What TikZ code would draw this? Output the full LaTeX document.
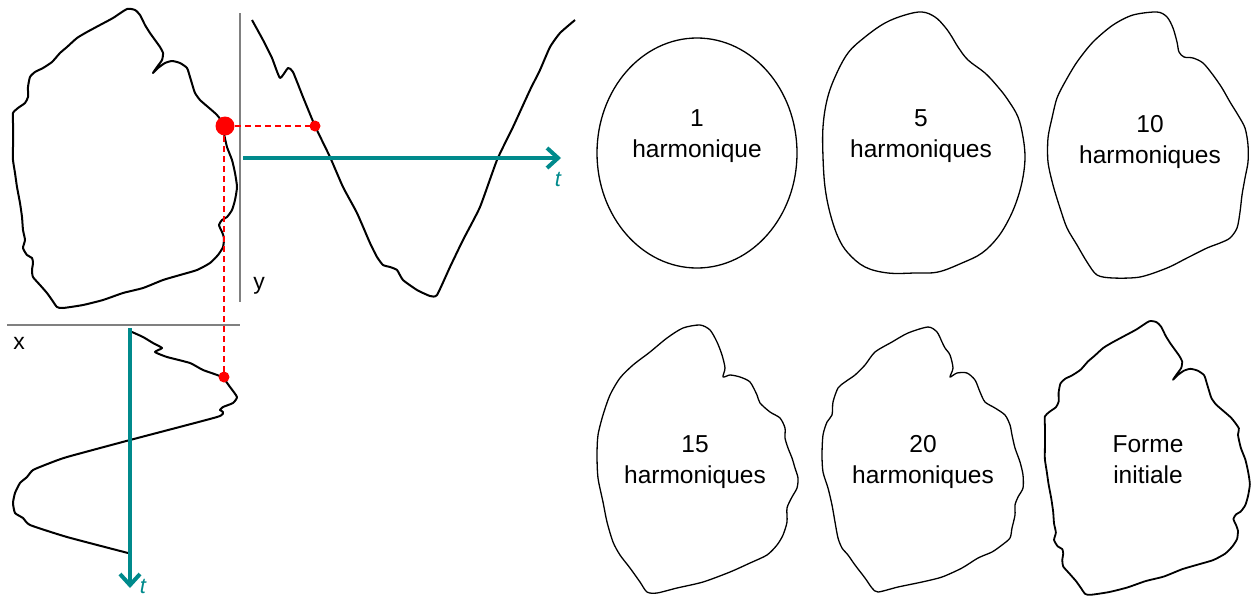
\documentclass[tikz,border=0pt]{standalone}
\usepackage{fontspec}
\setmainfont{Liberation Sans}
\usetikzlibrary{arrows.meta}
\definecolor{tealc}{RGB}{0,138,140}
\definecolor{axisgray}{RGB}{128,128,128}
\tikzset{
  contour/.style={line width=2pt, line join=round},
  harm/.style={line width=1.3pt, line join=round},
  wave/.style={line width=2pt, line join=round},
  axisline/.style={draw=axisgray, line width=1.2pt},
  tarrow/.style={draw=tealc, line width=4pt, -{Straight Barb[length=11pt,width=20pt,line width=4pt]}},
  proj/.style={draw=red, line width=1.6pt, dashed, dash pattern=on 6pt off 4pt},
  lbl/.style={font=\fontsize{24.5}{31}\selectfont, align=center, inner sep=0pt},
  axlbl/.style={font=\fontsize{23}{26}\selectfont, inner sep=0pt},
  tlbl/.style={font=\fontsize{22}{24}\selectfont\itshape, text=tealc, inner sep=0pt},
}
\begin{document}
\begin{tikzpicture}[x=1pt,y=-1pt]
\useasboundingbox (0,0) rectangle (1255,598);

% ---------- original shape ----------
\draw[contour] plot[smooth cycle, tension=0.35] coordinates {
(127,9)(135,10)(140,15)(145,25)(150,33)(155,40)(160,47)(163,53)(162,60)(157,67)(153,73)(158,68)(165,63)(172,61)(180,63)(187,68)(190,77)(193,87)(195,93)(200,100)(208,107)(217,115)(225,126)
(224,133)(227,147)(232,160)(235,173)(237,187)(235,200)(232,210)(227,217)(222,220)(219,225)(222,232)(224,238)(223,247)(218,255)(210,263)(197,270)(180,275)(163,280)(143,288)(123,293)(103,300)(83,305)(63,308)(57,307)(52,300)(47,293)(40,285)(33,277)(32,270)(33,263)(32,258)(27,255)(23,248)(25,240)(23,230)(22,217)(20,203)(17,187)(15,173)(13,160)(13,147)(13,133)(13,123)(13,113)(18,108)(25,103)(28,97)(28,87)(30,77)(35,72)(43,68)(52,62)(60,53)(67,47)(77,38)(87,32)(100,25)(113,18)};

% axes
\coordinate (yaxT) at (240,13);
\coordinate (yaxB) at (240,302);
\coordinate (xaxL) at (7,325);
\coordinate (xaxR) at (240,325);
\draw[axisline] (yaxT) -- (yaxB);
\draw[axisline] (xaxL) -- (xaxR);
\node[axlbl] (ylab) at (259,286) {y};
\node[axlbl] (xlab) at (19,343) {x};

% ---------- y(t) wave ----------
\draw[wave] plot[smooth, tension=0.3] coordinates {
(252,20)(263,40)(272,58)(280,78)(288,68)(293,72)(303,97)(315,126)(330,157)(343,187)(357,213)(370,243)(377,257)(383,265)(390,267)(397,270)(403,280)(417,290)(430,296)(437,295)(450,267)(463,240)(480,207)(497,160)(513,127)(530,90)(540,70)(550,47)(560,33)(575,20)};

% ---------- x(t) wave ----------
\draw[wave] plot[smooth, tension=0.3] coordinates {
(132,332)(143,337)(153,343)(162,348)(155,352)(167,357)(190,363)(203,370)(222,377)(230,387)(237,397)(233,403)(223,407)(220,410)(223,412)(217,417)(130,440)(67,457)(50,463)(33,470)(27,477)(20,483)(15,493)(13,503)(15,513)(23,518)(30,525)(67,537)(128,553)};

% teal time axes
\coordinate (htS) at (243,158);
\coordinate (htE) at (561,158);
\draw[tarrow] (htS) -- (htE);
\node[tlbl] (t1) at (558,179) {t};
\coordinate (vtS) at (130,328);
\coordinate (vtE) at (130,588);
\draw[tarrow] (vtS) -- (vtE);
\node[tlbl] (t2) at (143,586) {t};

% red projections
\node[circle, fill=red, inner sep=0pt, minimum size=19pt] (P) at (225,126) {};
\node[circle, fill=red, inner sep=0pt, minimum size=11pt] (Py) at (315,126) {};
\node[circle, fill=red, inner sep=0pt, minimum size=11pt] (Px) at (224,377) {};
\draw[proj] (P.center) -- (Py.center);
\draw[proj] (224,126) -- (Px.center);

% ---------- harmonics ----------
% 1 harmonic
\draw[harm] (697,153) ellipse [x radius=100, y radius=115];
\node[lbl] (h1) at (697,136) {1\\harmonique};

% 5 harmonics
\draw[harm] plot[smooth cycle, tension=0.6] coordinates {
(922,12)(935,17)(945,27)(952,37)(958,47)(968,60)(985,73)(998,87)(1008,100)(1018,117)(1023,137)(1025,157)(1023,177)(1018,197)(1010,217)(998,237)(982,253)(962,263)(938,272)(915,273)(888,273)(865,267)(848,253)(838,237)(830,213)(825,187)(823,157)(823,127)(827,100)(835,77)(848,53)(865,37)(885,23)(905,15)};
\node[lbl] (h5) at (921,136) {5\\harmoniques};

% 10 harmonics
\draw[harm] plot[smooth cycle, tension=0.5] coordinates {
(1157,12)(1167,17)(1173,28)(1177,42)(1179,52)(1184,57)(1193,58)(1203,63)(1213,75)(1222,88)(1230,102)(1238,115)(1245,128)(1248,145)(1248,162)(1245,178)(1242,195)(1240,212)(1237,228)(1230,238)(1220,243)(1207,248)(1187,258)(1167,268)(1140,277)(1113,278)(1097,275)(1087,262)(1077,245)(1067,228)(1060,208)(1053,185)(1048,162)(1048,138)(1052,118)(1057,98)(1065,82)(1077,62)(1093,42)(1113,25)(1133,15)};
\node[lbl] (h10) at (1150,142) {10\\harmoniques};

% 15 harmonics
\draw[harm] plot[smooth cycle, tension=0.45] coordinates {
(700,325)(710,330)(717,342)(722,355)(725,368)(723,377)(730,375)(740,377)(750,382)(757,395)(760,403)(770,412)(780,418)(785,428)(785,438)(788,448)(792,458)(795,468)(798,478)(797,488)(792,497)(787,508)(787,522)(783,535)(777,545)(767,555)(750,563)(730,572)(703,582)(677,588)(657,593)(647,592)(640,582)(630,568)(620,555)(613,542)(607,522)(603,502)(598,478)(597,455)(598,435)(603,415)(610,395)(620,378)(633,365)(650,352)(667,338)(683,328)};
\node[lbl] (h15) at (695,462) {15\\harmoniques};

% 20 harmonics
\draw[harm] plot[smooth cycle, tension=0.45] coordinates {
(928,327)(937,332)(942,342)(945,348)(950,355)(953,368)(950,377)(957,373)(967,373)(975,380)(980,392)(985,402)(995,408)(1005,415)(1010,425)(1012,435)(1015,448)(1020,462)(1023,475)(1023,488)(1018,497)(1015,505)(1015,515)(1012,528)(1010,538)(1002,545)(992,552)(978,558)(962,568)(942,577)(922,582)(898,587)(878,592)(872,588)(865,578)(855,565)(848,555)(842,548)(838,538)(835,522)(832,505)(828,488)(823,472)(822,455)(823,435)(827,422)(832,415)(833,402)(838,388)(845,382)(855,375)(865,365)(875,352)(892,342)(908,333)};
\node[lbl] (h20) at (923,462) {20\\harmoniques};

% initial shape (scaled copy)
\begin{scope}[shift={(1033,313)}, scale=0.915]
\draw[harm, line width=1.8pt] plot[smooth cycle, tension=0.35] coordinates {
(127,9)(135,10)(140,15)(145,25)(150,33)(155,40)(160,47)(163,53)(162,60)(157,67)(153,73)(158,68)(165,63)(172,61)(180,63)(187,68)(190,77)(193,87)(195,93)(200,100)(208,107)(217,115)(225,126)
(224,133)(227,147)(232,160)(235,173)(237,187)(235,200)(232,210)(227,217)(222,220)(219,225)(222,232)(224,238)(223,247)(218,255)(210,263)(197,270)(180,275)(163,280)(143,288)(123,293)(103,300)(83,305)(63,308)(57,307)(52,300)(47,293)(40,285)(33,277)(32,270)(33,263)(32,258)(27,255)(23,248)(25,240)(23,230)(22,217)(20,203)(17,187)(15,173)(13,160)(13,147)(13,133)(13,123)(13,113)(18,108)(25,103)(28,97)(28,87)(30,77)(35,72)(43,68)(52,62)(60,53)(67,47)(77,38)(87,32)(100,25)(113,18)};
\end{scope}
\node[lbl] (hinit) at (1148,460) {Forme\\initiale};
\end{tikzpicture}
\end{document}
